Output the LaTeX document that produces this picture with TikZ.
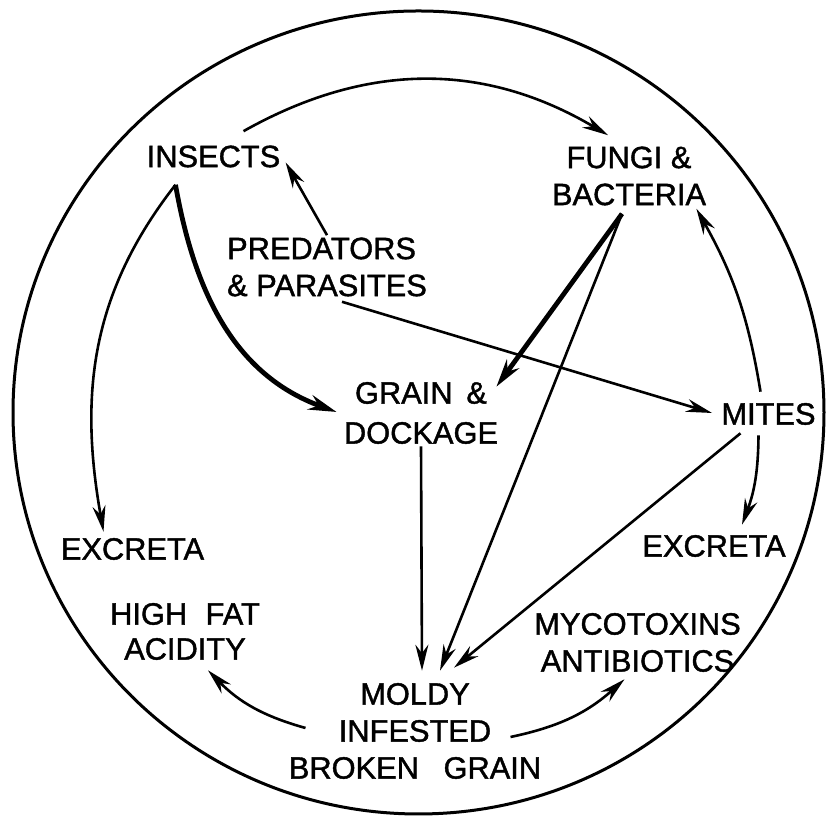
\documentclass[tikz,border=0pt]{standalone}
\usepackage{fontspec}
\setmainfont{Liberation Sans}[FakeBold=1.3]
\usetikzlibrary{arrows.meta}

\begin{document}
\begin{tikzpicture}[x=0.5pt, y=0.5pt,
  lbl/.style={font=\fontsize{15.4}{18.5}\selectfont, align=center, inner sep=1pt},
  flow/.style={line width=1.3pt, -{Stealth[length=13pt, width=6.5pt]}},
  heavy/.style={line width=2.4pt, -{Stealth[length=14pt, width=7.5pt]}}]
  \useasboundingbox (0,0) rectangle (826,817);

  % outer ring
  \draw[line width=1.5pt] (418.5,404.5) ellipse [x radius=405.5, y radius=401.5];

  \node[lbl] (insects) at (213.5,660.5) {INSECTS};
  \node[lbl] (fungi) at (629,641) {FUNGI \&\\BACTERIA};
  \node[lbl, align=left] (predators) at (327,550) {PREDATORS\\\& PARASITES};
  \node[lbl] (grain) at (421,404) {GRAIN\hspace{0.45em}\&\\[1.5pt]DOCKAGE};
  \node[lbl] (mites) at (768.5,403) {MITES};
  \node[lbl] (excL) at (132.5,268) {EXCRETA};
  \node[lbl] (excR) at (714,271) {EXCRETA};
  \node[lbl] (highfat) at (185,185.5) {HIGH\hspace{0.6em}FAT\\[-1pt]ACIDITY};
  \node[lbl] (myco) at (637.5,174.5) {MYCOTOXINS\\ANTIBIOTICS};
  \node[lbl] (moldy) at (415,86) {MOLDY\\INFESTED\\BROKEN\hspace{0.8em}GRAIN};

  \coordinate (fork) at ([shift={(-38,-15)}]insects.south);
  \coordinate (split) at ([shift={(-7,-6)}]fungi.south);

  % cycle round the ring
  \draw[flow] ([shift={(30,12)}]insects.north) to[bend left=30] ([shift={(-21,9)}]fungi.north);
  \draw[flow] ([shift={(-8,9)}]mites.north) to[bend right=10] ([shift={(-12,-1)}]fungi.south east);
  \draw[flow] ([shift={(-10,-8)}]mites.south) to[bend left=10] ([shift={(28,8)}]excR.north);
  \draw[flow] (fork) to[out=-128, in=100] ([shift={(-29,4)}]excL.north);
  \draw[heavy] (fork) to[out=-80, in=160] ([shift={(-5,1)}]grain.west);

  % predators
  \draw[flow] (predators.north) -- ([shift={(3,-6)}]insects.east);
  \draw[flow] ([shift={(15,-3)}]predators.south) -- ([shift={(-7,1)}]mites.west);

  % into the moldy grain
  \draw[heavy] (split) -- ([shift={(-4,-7)}]grain.north east);
  \draw[flow] (split) -- ([shift={(25,10)}]moldy.north);
  \draw[flow] (grain.south) -- ([shift={(7,10)}]moldy.north);
  \draw[flow] ([shift={(-28,-6)}]mites.south) -- ([shift={(39,13)}]moldy.north);

  % products
  \draw[flow] ([shift={(19,3)}]moldy.west) to[bend left=15] ([shift={(23,-8)}]highfat.south);
  \draw[flow] ([shift={(-33,-6)}]moldy.east) to[bend right=15] ([shift={(-13,-5)}]myco.south);
\end{tikzpicture}
\end{document}
